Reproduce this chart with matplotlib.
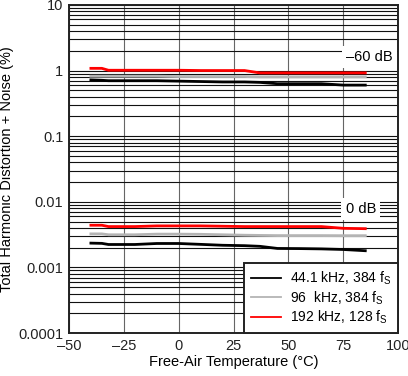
import matplotlib
matplotlib.use("Agg")
import matplotlib.pyplot as plt
from matplotlib.ticker import LogLocator, NullFormatter

plt.rcParams['font.family'] = ['Liberation Sans', 'DejaVu Sans']

# Data
temp = [-40, -35, -32, -20, -10, 0, 10, 20, 30, 37, 45, 55, 65, 75, 85]

# -60 dB input level
thd60_441 = [0.72, 0.71, 0.70, 0.70, 0.70, 0.69, 0.68, 0.67, 0.67, 0.66, 0.63, 0.63, 0.63, 0.60, 0.60]
thd60_96 = [0.82, 0.82, 0.82, 0.82, 0.82, 0.81, 0.81, 0.81, 0.81, 0.80, 0.80, 0.80, 0.80, 0.80, 0.80]
thd60_192 = [1.08, 1.08, 1.01, 1.01, 1.01, 1.01, 1.00, 1.00, 1.00, 0.92, 0.92, 0.92, 0.92, 0.92, 0.92]

# 0 dB input level
thd0_441 = [0.00235, 0.00233, 0.00224, 0.00224, 0.00232, 0.00232, 0.00225, 0.00218, 0.00215, 0.00210, 0.00195, 0.00194, 0.00192, 0.00188, 0.00180]
thd0_96 = [0.00325, 0.00325, 0.00315, 0.00315, 0.00322, 0.00322, 0.00320, 0.00315, 0.00310, 0.00308, 0.00306, 0.00306, 0.00306, 0.00305, 0.00305]
thd0_192 = [0.00440, 0.00440, 0.00420, 0.00420, 0.00430, 0.00430, 0.00430, 0.00425, 0.00420, 0.00420, 0.00420, 0.00420, 0.00420, 0.00395, 0.00390]

series_labels = ['44.1 kHz, 384 f$_\\mathregular{S}$',
                 '96  kHz, 384 f$_\\mathregular{S}$',
                 '192 kHz, 128 f$_\\mathregular{S}$']
series_colors = ['#000000', '#b4b4b4', '#ff0000']

x_ticks = [-50, -25, 0, 25, 50, 75, 100]
x_ticklabels = ['\u201350', '\u201325', '0', '25', '50', '75', '100']
y_ticks = [10, 1, 0.1, 0.01, 0.001, 0.0001]
y_ticklabels = ['10', '1', '0.1', '0.01', '0.001', '0.0001']

fig = plt.figure(figsize=(4.08, 3.76), dpi=100)
ax = fig.add_axes([0.169, 0.114, 0.807, 0.873])

high = [thd60_441, thd60_96, thd60_192]
low = [thd0_441, thd0_96, thd0_192]
for vals, col, lab in zip(high, series_colors, series_labels):
    ax.plot(temp, vals, color=col, lw=2, label=lab, zorder=3)
for vals, col in zip(low, series_colors):
    ax.plot(temp, vals, color=col, lw=2, zorder=3)

ax.set_yscale('log')
ax.set_xlim(-50, 100)
ax.set_ylim(0.0001, 10)
ax.set_xticks(x_ticks)
ax.set_xticklabels(x_ticklabels)
ax.set_yticks(y_ticks)
ax.set_yticklabels(y_ticklabels)
ax.yaxis.set_minor_locator(LogLocator(base=10, subs=range(2, 10)))
ax.yaxis.set_minor_formatter(NullFormatter())
ax.tick_params(which='both', length=0, labelsize=10.5, colors='#222222', pad=4)

ax.grid(True, which='major', axis='x', color='#666666', lw=0.8)
ax.grid(True, which='both', axis='y', color='#111111', lw=0.8)
for s in ax.spines.values():
    s.set_linewidth(1.4)
    s.set_color('#222222')

ax.text(87, 1.6, '\u201360 dB', ha='center', va='center', fontsize=10.5,
        bbox=dict(facecolor='white', edgecolor='none', pad=3), zorder=4)
ax.text(83, 0.0078, '0 dB', ha='center', va='center', fontsize=10.5,
        bbox=dict(facecolor='white', edgecolor='none', pad=3), zorder=4)

leg = ax.legend(loc='lower right', fontsize=10, fancybox=False, framealpha=1,
                edgecolor='#222222', borderaxespad=0, handlelength=2.2,
                handletextpad=0.6, labelspacing=0.15, borderpad=0.5)
leg.get_frame().set_linewidth(1.4)
for h in leg.get_lines():
    h.set_linewidth(1.3)

ax.set_xlabel('Free-Air Temperature (\u00b0C)', fontsize=10.5, labelpad=2)
ax.set_ylabel('Total Harmonic Distortion + Noise (%)', fontsize=10.5, labelpad=3)

fig.savefig('out.png', dpi=100)
